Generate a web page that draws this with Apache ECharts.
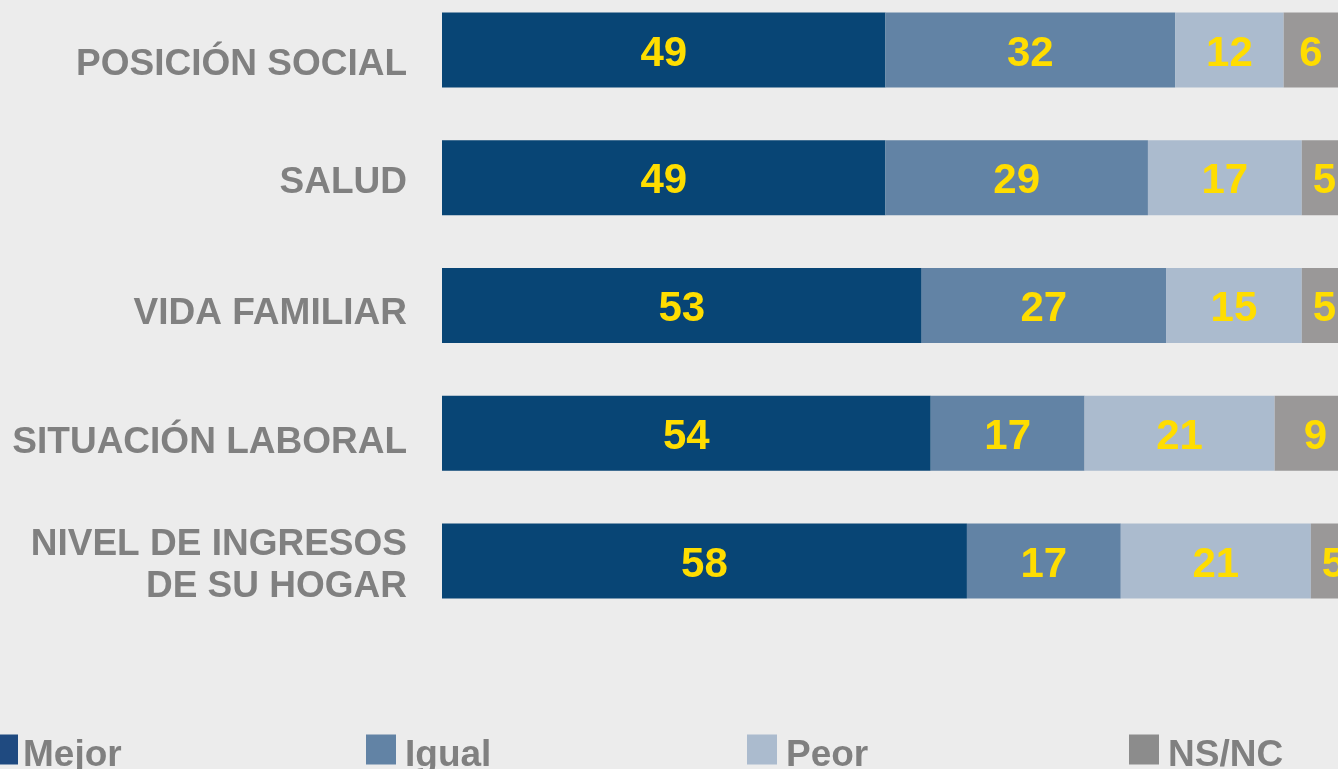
<!DOCTYPE html>
<html>
<head>
<meta charset="utf-8">
<script src="https://cdn.jsdelivr.net/npm/echarts@6/dist/echarts.min.js"></script>
<style>
html,body{margin:0;padding:0;background:#ececec;}
#chart{width:1338px;height:769px;}
</style>
</head>
<body>
<div id="chart"></div>
<script>
const categories = ['POSICIÓN SOCIAL', 'SALUD', 'VIDA FAMILIAR', 'SITUACIÓN LABORAL', 'NIVEL DE INGRESOS\nDE SU HOGAR'];
const seriesNames = ['Mejor', 'Igual', 'Peor', 'NS/NC'];
const mejor = [49, 49, 53, 54, 58];
const igual = [32, 29, 27, 17, 17];
const peor = [12, 17, 15, 21, 21];
const nsnc = [6, 5, 5, 9, 5];

const barColors = ['#084575', '#6283A5', '#ABBBCE', '#9A9898'];
const legendColors = ['#1F4A80', '#6283A5', '#ABBBCE', '#8C8C8C'];
const legendLeft = [-12, 366, 747, 1129];
const labelShift = [30, 10, 16, 20, 10];
const FONT = '"Liberation Sans", Arial, sans-serif';
const values = [mejor, igual, peor, nsnc];

const catRich = {};
labelShift.forEach((p, i) => {
  catRich['c' + i] = {
    color: '#808080', fontSize: 37, fontWeight: 'bold', fontFamily: FONT,
    lineHeight: 42, padding: [p, 0, 0, 0], align: 'right'
  };
});

const chart = echarts.init(document.getElementById('chart'));
const option = {
  backgroundColor: '#ececec',
  animation: false,
  textStyle: { fontFamily: FONT },
  grid: { left: 442, right: 0, top: 50, height: 511, containLabel: false },
  xAxis: {
    type: 'value', min: 0, max: 99, show: false
  },
  yAxis: {
    type: 'category', inverse: true, data: categories, boundaryGap: false,
    axisLine: { show: false }, axisTick: { show: false }, splitLine: { show: false },
    axisLabel: {
      margin: 35, align: 'right',
      formatter: (v, idx) => v.split('\n').map(s => '{c' + idx + '|' + s + '}').join('\n'),
      rich: catRich
    }
  },
  legend: seriesNames.map((n, i) => ({
    left: legendLeft[i], top: 725, orient: 'horizontal', padding: 0,
    icon: 'rect', itemWidth: 30, itemHeight: 30, selectedMode: false,
    data: [{ name: n, itemStyle: { color: legendColors[i] } }],
    formatter: '{a|{name}}',
    textStyle: {
      rich: {
        a: { color: '#808080', fontSize: 37, fontWeight: 'bold', fontFamily: FONT,
          lineHeight: 30, padding: [12, 0, 0, i === 0 ? 0 : 4] }
      }
    }
  })),
  series: seriesNames.map((n, i) => ({
    name: n, type: 'bar', stack: 'total', barWidth: 75, clip: false,
    data: values[i],
    itemStyle: { color: barColors[i] },
    label: {
      show: true, position: 'inside', color: '#FFDD00', fontSize: 42,
      fontWeight: 'bold', fontFamily: FONT, offset: [0, 4]
    }
  }))
};
chart.setOption(option);
</script>
</body>
</html>
